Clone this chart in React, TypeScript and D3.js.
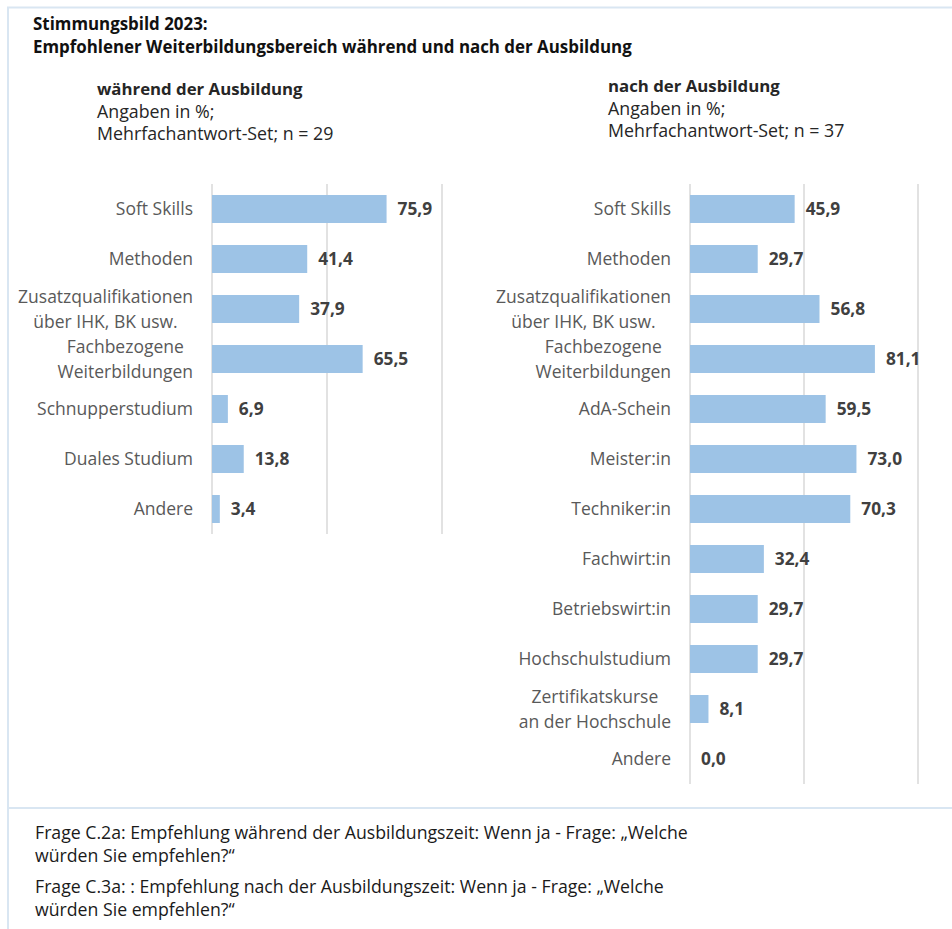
import React, { useEffect, useRef } from "react";
import * as d3 from "d3";

const duringCategories = [
  "Soft Skills",
  "Methoden",
  "Zusatzqualifikationen\nüber IHK, BK usw.",
  "Fachbezogene\nWeiterbildungen",
  "Schnupperstudium",
  "Duales Studium",
  "Andere",
];
const duringValues = [75.9, 41.4, 37.9, 65.5, 6.9, 13.8, 3.4];

const afterCategories = [
  "Soft Skills",
  "Methoden",
  "Zusatzqualifikationen\nüber IHK, BK usw.",
  "Fachbezogene\nWeiterbildungen",
  "AdA-Schein",
  "Meister:in",
  "Techniker:in",
  "Fachwirt:in",
  "Betriebswirt:in",
  "Hochschulstudium",
  "Zertifikatskurse\nan der Hochschule",
  "Andere",
];
const afterValues = [45.9, 29.7, 56.8, 81.1, 59.5, 73.0, 70.3, 32.4, 29.7, 29.7, 8.1, 0.0];

const gridTicks = [0, 50, 100];

const titleLines = [
  "Stimmungsbild 2023:",
  "Empfohlener Weiterbildungsbereich während und nach der Ausbildung",
];
const duringHeader = ["während der Ausbildung", "Angaben in %;", "Mehrfachantwort-Set; n = 29"];
const afterHeader = ["nach der Ausbildung", "Angaben in %;", "Mehrfachantwort-Set; n = 37"];
const footnoteA = [
  "Frage C.2a: Empfehlung während der Ausbildungszeit: Wenn ja - Frage: „Welche",
  "würden Sie empfehlen?“",
];
const footnoteB = [
  "Frage C.3a: : Empfehlung nach der Ausbildungszeit: Wenn ja - Frage: „Welche",
  "würden Sie empfehlen?“",
];

const FONT = "'Open Sans', 'Noto Sans', sans-serif";
const BAR = "#9dc3e6";
const GRID = "#d9d9d9";
const LABEL = "#595959";
const VALUE = "#404040";
const FRAME = "#d9e6f2";

const W = 952;
const H = 929;

function fmt(v: number) {
  return d3.format(".1f")(v).replace(".", ",");
}

function drawPanel(
  svg: d3.Selection<SVGSVGElement, unknown, null, undefined>,
  cats: string[],
  vals: number[],
  xRange: [number, number],
  yRange: [number, number]
) {
  const x = d3.scaleLinear().domain([0, 100]).range(xRange);
  const y = d3
    .scaleBand<string>()
    .domain(cats)
    .range(yRange)
    .paddingInner(0.44)
    .paddingOuter(0.22);

  const g = svg.append("g");

  g.selectAll("line.grid")
    .data(gridTicks)
    .join("line")
    .attr("class", "grid")
    .attr("x1", (d) => x(d))
    .attr("x2", (d) => x(d))
    .attr("y1", yRange[0])
    .attr("y2", yRange[1])
    .attr("stroke", GRID)
    .attr("stroke-width", 1.5);

  const data = cats.map((c, i) => ({ c, v: vals[i] }));

  g.selectAll("rect.bar")
    .data(data)
    .join("rect")
    .attr("class", "bar")
    .attr("x", x(0))
    .attr("y", (d) => y(d.c)!)
    .attr("width", (d) => x(d.v) - x(0))
    .attr("height", y.bandwidth())
    .attr("fill", BAR);

  g.selectAll("text.val")
    .data(data)
    .join("text")
    .attr("class", "val")
    .attr("x", (d) => x(d.v) + 11)
    .attr("y", (d) => y(d.c)! + y.bandwidth() / 2)
    .attr("dy", "0.36em")
    .attr("font-family", FONT)
    .attr("font-size", 17.3)
    .attr("font-weight", 700)
    .attr("fill", VALUE)
    .text((d) => fmt(d.v));

  const labelX = x(0) - 19;
  const lineH = 25;
  data.forEach((d) => {
    const lines = d.c.split("\n");
    const cy = y(d.c)! + y.bandwidth() / 2;
    const lg = g.append("g");
    const texts = lines.map((ln, i) =>
      lg
        .append("text")
        .attr("x", labelX)
        .attr("y", cy + (i - (lines.length - 1) / 2) * lineH)
        .attr("dy", "0.36em")
        .attr("text-anchor", "end")
        .attr("font-family", FONT)
        .attr("font-size", 17.5)
        .attr("fill", LABEL)
        .text(ln)
    );
    if (texts.length > 1) {
      const widths = texts.map((t) => (t.node() as SVGTextElement).getComputedTextLength());
      const maxW = d3.max(widths) || 0;
      texts.forEach((t, i) => t.attr("x", labelX - (maxW - widths[i]) / 2));
    }
  });
}

function textBlock(
  svg: d3.Selection<SVGSVGElement, unknown, null, undefined>,
  lines: string[],
  x: number,
  y0: number,
  lh: number,
  sizes: number[],
  weights: number[],
  color: string
) {
  lines.forEach((ln, i) => {
    svg
      .append("text")
      .attr("x", x)
      .attr("y", y0 + i * lh)
      .attr("font-family", FONT)
      .attr("font-size", sizes[Math.min(i, sizes.length - 1)])
      .attr("font-weight", weights[Math.min(i, weights.length - 1)])
      .attr("fill", color)
      .text(ln);
  });
}

export default function App() {
  const ref = useRef<SVGSVGElement>(null);

  useEffect(() => {
    const svg = d3.select(ref.current!);
    svg.selectAll("*").remove();

    svg.append("rect").attr("width", W).attr("height", H).attr("fill", "#ffffff");

    // frame
    svg
      .append("path")
      .attr("d", `M${W} 7.5 H8 V${H}`)
      .attr("fill", "none")
      .attr("stroke", FRAME)
      .attr("stroke-width", 2);
    svg
      .append("line")
      .attr("x1", 8)
      .attr("x2", W)
      .attr("y1", 808)
      .attr("y2", 808)
      .attr("stroke", FRAME)
      .attr("stroke-width", 2);

    textBlock(svg, titleLines, 33, 30, 23, [16.9], [700], "#111111");
    textBlock(svg, duringHeader, 97, 95, 22.5, [16.8, 17.8], [700, 400], "#262626");
    textBlock(svg, afterHeader, 608, 92, 22.5, [16.8, 17.8], [700, 400], "#262626");

    drawPanel(svg, duringCategories, duringValues, [212, 442], [184, 534]);
    drawPanel(svg, afterCategories, afterValues, [690, 918], [184, 784]);

    textBlock(svg, footnoteA, 35, 839, 23, [17.7], [400], "#1a1a1a");
    textBlock(svg, footnoteB, 35, 893, 23, [17.7], [400], "#1a1a1a");
  }, []);

  return (
    <svg
      ref={ref}
      width={W}
      height={H}
      style={{ position: "absolute", left: 0, top: 0, display: "block" }}
    />
  );
}
